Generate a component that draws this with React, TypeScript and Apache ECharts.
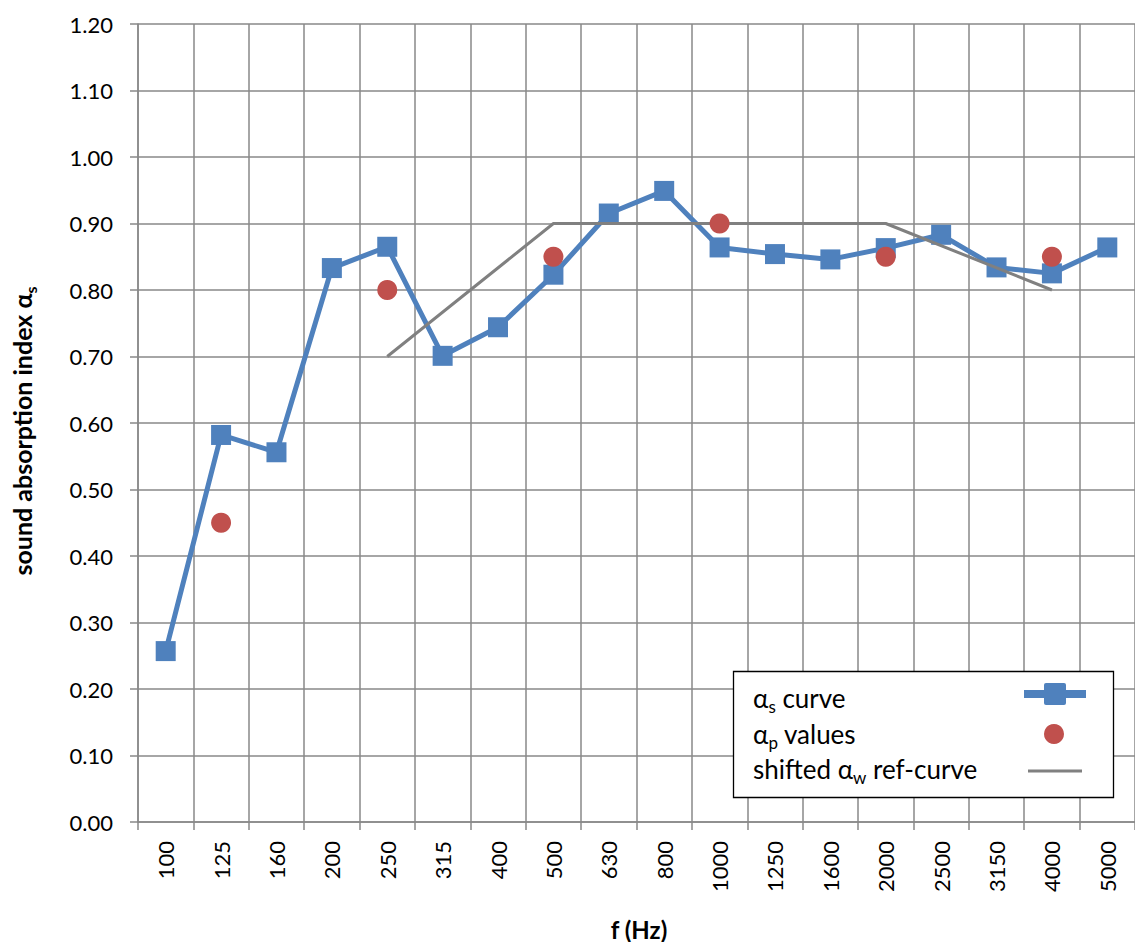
import React, { useEffect, useRef } from 'react';
import * as echarts from 'echarts';

const frequencies = ['100', '125', '160', '200', '250', '315', '400', '500', '630', '800', '1000', '1250', '1600', '2000', '2500', '3150', '4000', '5000'];
const alphaS = [0.257, 0.582, 0.556, 0.833, 0.865, 0.701, 0.744, 0.823, 0.915, 0.949, 0.864, 0.854, 0.846, 0.863, 0.883, 0.834, 0.825, 0.864];
const alphaP = [null, 0.45, null, null, 0.8, null, null, 0.85, null, null, 0.9, null, null, 0.85, null, null, 0.85, null];
const refCurve = [null, null, null, null, 0.7, null, null, 0.9, null, null, 0.9, null, null, 0.9, null, null, 0.8, null];
const yMin = 0;
const yMax = 1.2;
const yStep = 0.1;

const FONT = 'Lato, "Noto Sans", sans-serif';
const BLUE = '#4F81BD';
const RED = '#C0504D';
const GRAY = '#808080';
const GRID = '#898989';

const mainRich = { fontSize: 26, fontFamily: FONT, color: '#000', lineHeight: 34 };
const subRich = { fontSize: 17, fontFamily: FONT, color: '#000', lineHeight: 12, verticalAlign: 'bottom' };

export default function App() {
  const ref = useRef<HTMLDivElement>(null);
  useEffect(() => {
    if (!ref.current) return;
    const chart = echarts.init(ref.current, undefined, { renderer: 'svg' });
    const legendText = (y: number, text: string) => ({
      type: 'text',
      x: 753,
      y,
      z: 101,
      style: {
        text,
        rich: { a: mainRich, s: subRich },
        align: 'left',
        verticalAlign: 'middle',
      },
    });
    chart.setOption({
      animation: false,
      backgroundColor: '#fff',
      grid: { left: 138, top: 24, width: 1001, height: 798 },
      xAxis: {
        type: 'category',
        data: frequencies,
        boundaryGap: true,
        axisLine: { show: true, lineStyle: { color: GRID, width: 1.5 } },
        axisTick: { show: true, length: 8, interval: 0, alignWithLabel: false, lineStyle: { color: GRID, width: 1.5 } },
        axisLabel: { rotate: 90, margin: 19, fontSize: 22, fontFamily: FONT, color: '#000', interval: 0 },
        splitLine: { show: true, interval: 0, lineStyle: { color: GRID, width: 1.5 } },
      },
      yAxis: {
        type: 'value',
        min: yMin,
        max: yMax,
        interval: yStep,
        axisLine: { show: true, lineStyle: { color: GRID, width: 1.5 } },
        axisTick: { show: true, length: 8, lineStyle: { color: GRID, width: 1.5 } },
        axisLabel: { margin: 25, fontSize: 22, fontFamily: FONT, color: '#000', formatter: (v: number) => v.toFixed(2) },
        splitLine: { show: true, lineStyle: { color: GRID, width: 1.5 } },
      },
      series: [
        {
          name: 'αs curve',
          type: 'line',
          data: alphaS,
          symbol: 'rect',
          symbolSize: 20,
          lineStyle: { color: BLUE, width: 5 },
          itemStyle: { color: BLUE },
          z: 2,
        },
        {
          name: 'shifted αw ref-curve',
          type: 'line',
          data: refCurve,
          connectNulls: true,
          symbol: 'none',
          showSymbol: false,
          lineStyle: { color: GRAY, width: 3 },
          itemStyle: { color: GRAY },
          z: 3,
        },
        {
          name: 'αp values',
          type: 'scatter',
          data: alphaP,
          symbol: 'circle',
          symbolSize: 20,
          itemStyle: { color: RED, opacity: 1 },
          z: 4,
        },
      ],
      graphic: [
        {
          type: 'text',
          x: 22,
          y: 431,
          rotation: Math.PI / 2,
          style: {
            text: '{b|sound absorption index α}{bs|s}',
            rich: {
              b: { fontSize: 25, fontWeight: 'bold', fontFamily: FONT, color: '#000', lineHeight: 32 },
              bs: { fontSize: 16, fontWeight: 'bold', fontFamily: FONT, color: '#000', lineHeight: 11, verticalAlign: 'bottom' },
            },
            align: 'center',
            verticalAlign: 'middle',
          },
        },
        {
          type: 'text',
          x: 639,
          y: 929,
          style: {
            text: 'f (Hz)',
            fontSize: 24,
            fontWeight: 'bold',
            fontFamily: FONT,
            fill: '#000',
            align: 'center',
            verticalAlign: 'middle',
          },
        },
        {
          type: 'rect',
          z: 100,
          shape: { x: 733.5, y: 671.5, width: 380, height: 126 },
          style: { fill: '#fff', stroke: '#000', lineWidth: 1.3 },
        },
        legendText(698, '{a|α}{s|s}{a| curve}'),
        legendText(733.5, '{a|α}{s|p}{a| values}'),
        legendText(769, '{a|shifted α}{s|w}{a| ref-curve}'),
        {
          type: 'line',
          z: 101,
          shape: { x1: 1024, y1: 694, x2: 1086, y2: 694 },
          style: { stroke: BLUE, lineWidth: 8 },
        },
        {
          type: 'rect',
          z: 102,
          shape: { x: 1044, y: 683, width: 22, height: 22, r: 2 },
          style: { fill: BLUE },
        },
        {
          type: 'circle',
          z: 101,
          shape: { cx: 1054, cy: 734, r: 10 },
          style: { fill: RED },
        },
        {
          type: 'line',
          z: 101,
          shape: { x1: 1028, y1: 771, x2: 1082, y2: 771 },
          style: { stroke: GRAY, lineWidth: 3 },
        },
      ],
    });
    return () => chart.dispose();
  }, []);
  return (
    <div style={{ position: 'absolute', left: 0, top: 0, width: 1135, height: 942, overflow: 'hidden' }}>
      <div ref={ref} style={{ width: 1135, height: 942 }} />
    </div>
  );
}
